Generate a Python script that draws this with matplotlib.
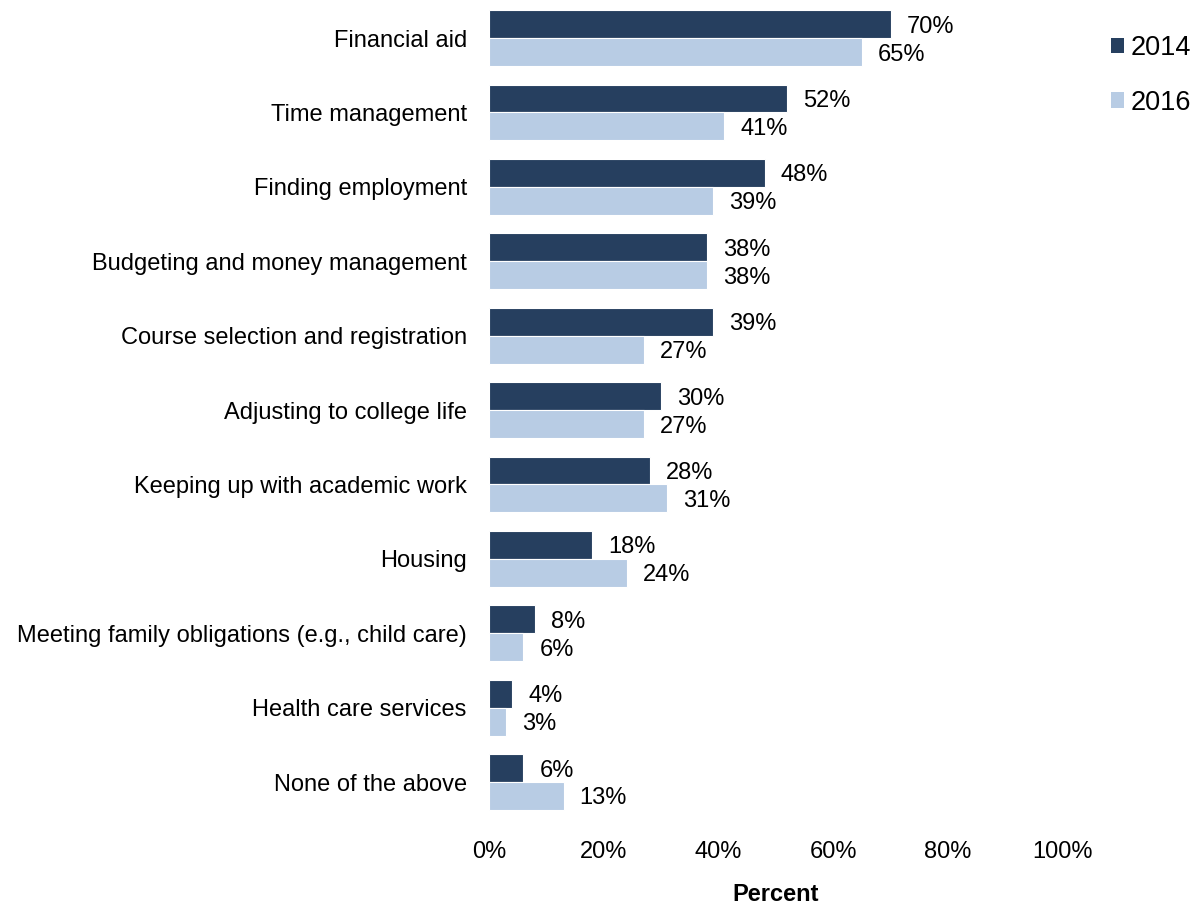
import matplotlib
matplotlib.use("Agg")
import matplotlib.pyplot as plt
import numpy as np
from matplotlib.patches import Patch

categories = [
    "Financial aid",
    "Time management",
    "Finding employment",
    "Budgeting and money management",
    "Course selection and registration",
    "Adjusting to college life",
    "Keeping up with academic work",
    "Housing",
    "Meeting family obligations (e.g., child care)",
    "Health care services",
    "None of the above",
]
values_2014 = [70, 52, 48, 38, 39, 30, 28, 18, 8, 4, 6]
values_2016 = [65, 41, 39, 38, 27, 27, 31, 24, 6, 3, 13]
series_labels = ["2014", "2016"]
xticks = [0, 20, 40, 60, 80, 100]

plt.rcParams["font.family"] = ["Liberation Sans", "DejaVu Sans"]

dark = "#263F5F"
light = "#B8CCE4"
fs = 17

fig = plt.figure(figsize=(11.91, 9.05), dpi=100)
ax = fig.add_axes([0.4106, 0.0948, 0.8925 - 0.4106, 0.999 - 0.0948])

y = np.arange(len(categories))
h = 0.375
ax.barh(y - h / 2, values_2014, height=h, color=dark, edgecolor="white", linewidth=0.8)
ax.barh(y + h / 2, values_2016, height=h, color=light, edgecolor="white", linewidth=0.8)

for yi, v in zip(y, values_2014):
    ax.text(v + 2.8, yi - h / 2, f"{v}%", va="center_baseline", ha="left", fontsize=fs, color="black")
for yi, v in zip(y, values_2016):
    ax.text(v + 2.8, yi + h / 2, f"{v}%", va="center_baseline", ha="left", fontsize=fs, color="black")

ax.set_xlim(0, 100)
ax.set_ylim(len(categories) - 0.5, -0.5)
ax.set_yticks(y)
ax.set_yticklabels(categories, fontsize=fs)
ax.set_xticks(xticks)
ax.set_xticklabels([f"{t}%" for t in xticks], fontsize=fs)
ax.tick_params(axis="both", length=0)
ax.tick_params(axis="x", pad=16)
ax.tick_params(axis="y", pad=16)
for s in ax.spines.values():
    s.set_visible(False)
ax.set_xlabel("Percent", fontsize=fs, fontweight="bold", labelpad=14)

handles = [Patch(facecolor=dark), Patch(facecolor=light)]
fig.legend(handles, series_labels, loc="upper left", bbox_to_anchor=(0.912, 0.988),
           frameon=False, fontsize=19.5, handlelength=0.5, handleheight=0.5,
           handletextpad=0.25, labelspacing=1.05)

fig.savefig("out.png", dpi=100)
